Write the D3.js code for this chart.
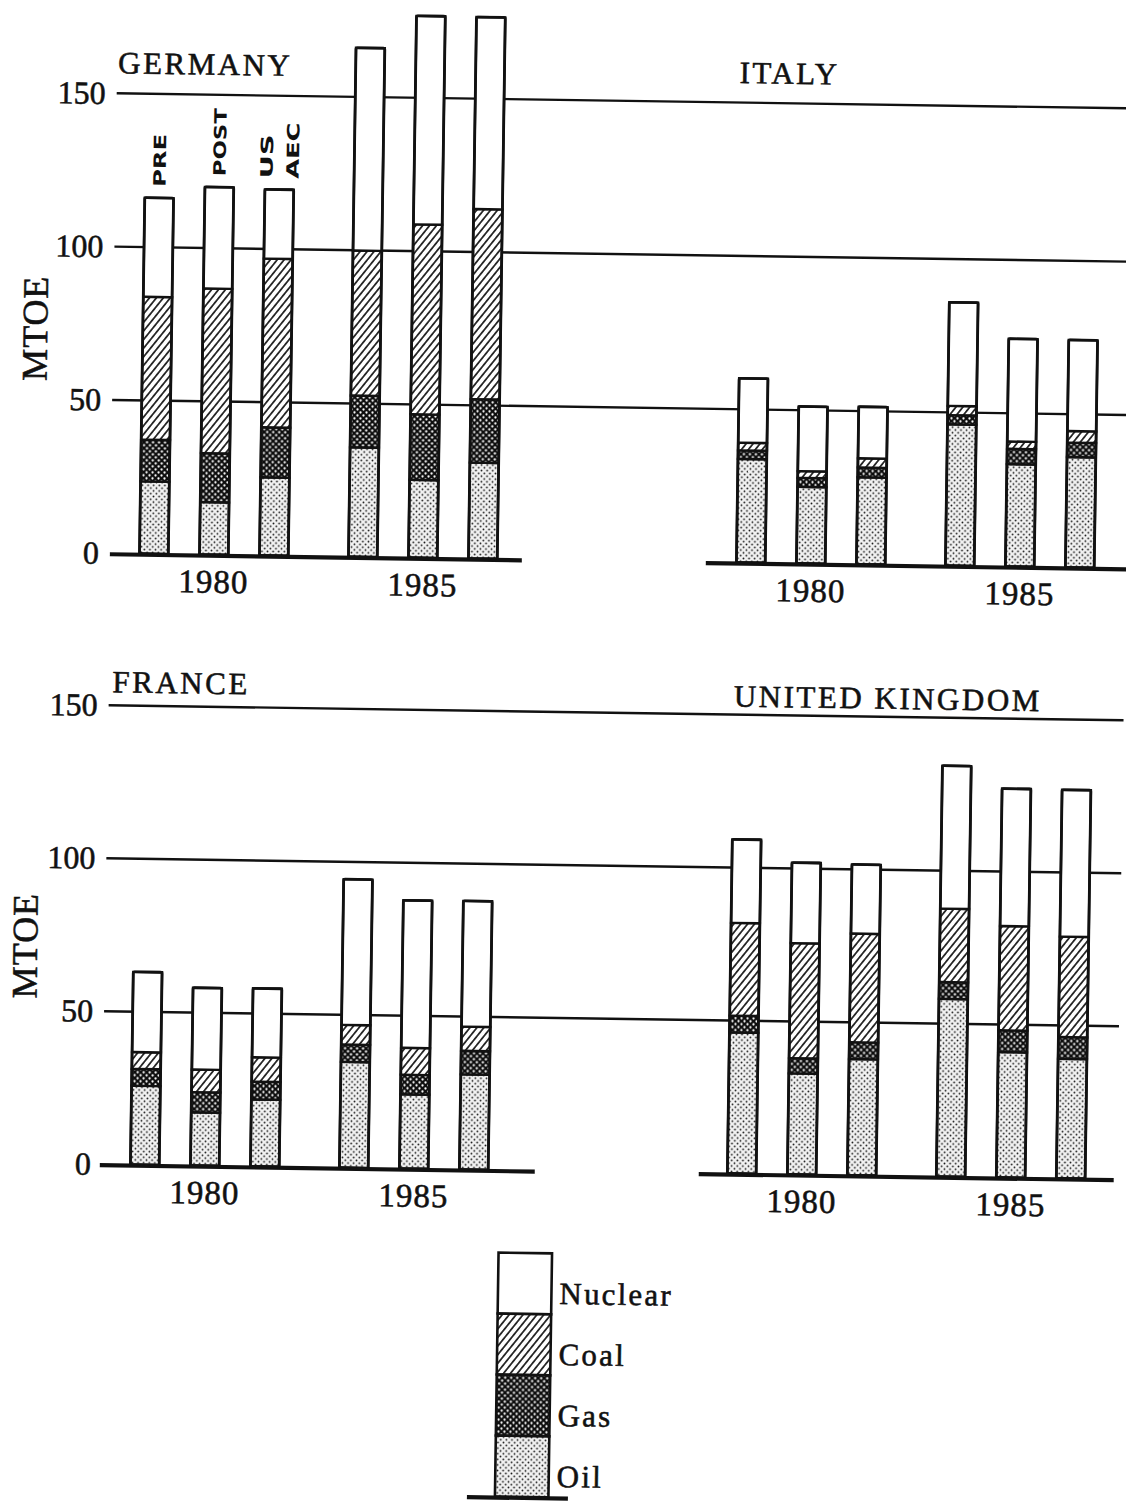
<!DOCTYPE html>
<html>
<head>
<meta charset="utf-8">
<script src="https://cdn.jsdelivr.net/npm/d3@7"></script>
<style>
  html, body { margin: 0; padding: 0; background: #fff; }
  svg { display: block; }
  .ink { stroke: #111; stroke-width: 0.55px; paint-order: stroke; }
</style>
</head>
<body>
<script>
// Primary energy supply by source (MTOE) under three scenarios, 1980 and 1985.

const years = ["1980", "1985"];
const scenarios = ["PRE", "POST", "US AEC"];
const sources = ["Oil", "Gas", "Coal", "Nuclear"];
const yTicks = [0, 50, 100, 150];

// Order of values: 1980 PRE, POST, US AEC, then 1985 PRE, POST, US AEC
const germanyOil     = [23.6, 17.1, 25.5, 35.7, 25.4, 31.3];
const germanyGas     = [13.6, 16.0, 16.3, 16.9, 21.4, 20.7];
const germanyCoal    = [46.6, 53.7, 55.0, 47.3, 61.9, 62.0];
const germanyNuclear = [32.3, 33.1, 22.6, 66.1, 68.0, 62.6];

const italyOil     = [33.8, 25.0, 28.4, 46.1, 33.4, 36.0];
const italyGas     = [2.8, 2.9, 3.2, 3.0, 5.0, 4.7];
const italyCoal    = [2.5, 2.2, 3.0, 3.0, 2.4, 3.8];
const italyNuclear = [21.0, 21.1, 16.8, 33.8, 33.5, 29.7];

const franceOil     = [25.8, 17.4, 21.9, 34.6, 24.3, 31.1];
const franceGas     = [5.5, 6.6, 5.8, 5.7, 6.4, 7.7];
const franceCoal    = [5.5, 7.4, 8.0, 6.4, 8.8, 7.9];
const franceNuclear = [26.2, 26.7, 22.5, 47.6, 48.2, 41.1];

const ukOil     = [46.1, 33.0, 38.0, 58.1, 41.0, 39.1];
const ukGas     = [5.5, 5.0, 5.5, 5.5, 7.1, 7.1];
const ukCoal    = [30.3, 37.6, 35.5, 24.0, 34.1, 32.8];
const ukNuclear = [27.3, 26.3, 22.6, 46.7, 44.9, 48.0];

const countries = ["GERMANY", "ITALY", "FRANCE", "UNITED KINGDOM"];
const countryValues = {
  "GERMANY":        { Oil: germanyOil, Gas: germanyGas, Coal: germanyCoal, Nuclear: germanyNuclear },
  "ITALY":          { Oil: italyOil,   Gas: italyGas,   Coal: italyCoal,   Nuclear: italyNuclear },
  "FRANCE":         { Oil: franceOil,  Gas: franceGas,  Coal: franceCoal,  Nuclear: franceNuclear },
  "UNITED KINGDOM": { Oil: ukOil,      Gas: ukGas,      Coal: ukCoal,      Nuclear: ukNuclear }
};

// ---------- layout ----------
const W = 1126, H = 1502;
const rows = [
  { base: 560,  top: 100, gridX: [107, 1145], titleY: [80, 80.5] },
  { base: 1171, top: 712, gridX: [108, 1123], titleY: [699, 704] }
];
const cols = [ { range: [121, 510] }, { range: [718, 1107] } ];
const panelLayout = {
  "GERMANY":        { row: 0, col: 0, titleX: 108,   axisX: [107, 519] },
  "ITALY":          { row: 0, col: 1, titleX: 729.5, axisX: [703, 1145] },
  "FRANCE":         { row: 1, col: 0, titleX: 111.5, axisX: [106, 541] },
  "UNITED KINGDOM": { row: 1, col: 1, titleX: 733,   axisX: [705, 1120] }
};
const serif = "'Liberation Serif', 'Times New Roman', serif";
const labelLength = { "PRE": 53, "POST": 68, "US": 44, "AEC": 56 };

const svg = d3.select("body").append("svg")
  .attr("width", W).attr("height", H)
  .attr("viewBox", `0 0 ${W} ${H}`);

// ---------- fill patterns ----------
const defs = svg.append("defs");

const oilPat = defs.append("pattern").attr("id", "pat-oil")
  .attr("patternUnits", "userSpaceOnUse").attr("width", 5.6).attr("height", 5.6);
oilPat.append("rect").attr("width", 5.6).attr("height", 5.6).attr("fill", "#f2f2f2");
oilPat.append("circle").attr("cx", 1.4).attr("cy", 1.4).attr("r", 0.9).attr("fill", "#151515");
oilPat.append("circle").attr("cx", 4.2).attr("cy", 4.2).attr("r", 0.9).attr("fill", "#151515");

const gasPat = defs.append("pattern").attr("id", "pat-gas")
  .attr("patternUnits", "userSpaceOnUse").attr("width", 6).attr("height", 6);
gasPat.append("rect").attr("width", 6).attr("height", 6).attr("fill", "#0d0d0d");
gasPat.append("circle").attr("cx", 1.5).attr("cy", 1.5).attr("r", 1.15).attr("fill", "#fff");
gasPat.append("circle").attr("cx", 4.5).attr("cy", 4.5).attr("r", 1.15).attr("fill", "#fff");

const coalPat = defs.append("pattern").attr("id", "pat-coal")
  .attr("patternUnits", "userSpaceOnUse").attr("width", 5.4).attr("height", 5.4)
  .attr("patternTransform", "rotate(38)");
coalPat.append("rect").attr("width", 5.4).attr("height", 5.4).attr("fill", "#fff");
coalPat.append("line").attr("x1", 2.7).attr("x2", 2.7).attr("y1", -1).attr("y2", 6.4)
  .attr("stroke", "#0d0d0d").attr("stroke-width", 1.6);

const fills = { Oil: "url(#pat-oil)", Gas: "url(#pat-gas)", Coal: "url(#pat-coal)", Nuclear: "#fff" };

// whole sheet sits slightly rotated on the page
const sheet = svg.append("g").attr("transform", "rotate(0.85, 563, 751)");

// ---------- shared y scales, gridlines and axes per row ----------
rows.forEach((r, i) => {
  r.y = d3.scaleLinear().domain([0, 150]).range([r.base, r.top]);

  sheet.append("g").selectAll("line")
    .data(yTicks.filter(t => t > 0))
    .join("line")
      .attr("x1", r.gridX[0]).attr("x2", r.gridX[1])
      .attr("y1", d => r.y(d)).attr("y2", d => r.y(d))
      .attr("stroke", "#111").attr("stroke-width", 2.4);

  const axis = sheet.append("g")
    .attr("transform", `translate(${r.gridX[0]},0)`)
    .call(d3.axisLeft(r.y).tickValues(yTicks).tickSize(0).tickPadding(11));
  axis.select(".domain").remove();
  axis.selectAll("text")
    .attr("class", "ink")
    .attr("font-family", serif).attr("font-size", 32).attr("fill", "#111");

  const midY = r.y(75);
  sheet.append("text")
    .attr("class", "ink")
    .attr("transform", `translate(${i === 0 ? 28.5 : 27.5},${midY + (i === 0 ? 6 : 12)}) rotate(-90)`)
    .attr("text-anchor", "middle").attr("dy", "0.35em")
    .attr("font-family", serif).attr("font-size", 36).attr("letter-spacing", 1)
    .attr("fill", "#111")
    .text("MTOE");
});

// ---------- panels ----------
countries.forEach(name => {
  const lay = panelLayout[name];
  const r = rows[lay.row];
  const y = r.y;
  const x0 = d3.scaleBand().domain(years).range(cols[lay.col].range).paddingInner(29 / 209);
  const x1 = d3.scaleBand().domain(scenarios).range([0, x0.bandwidth()])
    .paddingInner(0.52).paddingOuter(0.26);

  const vals = countryValues[name];
  const table = [];
  years.forEach((yr, yi) => scenarios.forEach((sc, si) => {
    const idx = yi * scenarios.length + si;
    const row = { year: yr, scenario: sc };
    sources.forEach(s => { row[s] = vals[s][idx]; });
    table.push(row);
  }));
  const stacked = d3.stack().keys(sources)(table);

  const g = sheet.append("g").attr("class", "panel");
  const bx = d => x0(d.data.year) + x1(d.data.scenario);

  g.selectAll("g.series")
    .data(stacked)
    .join("g").attr("class", "series")
      .attr("fill", d => fills[d.key])
    .selectAll("rect")
    .data(d => d)
    .join("rect")
      .attr("x", bx)
      .attr("y", d => y(d[1]))
      .attr("width", x1.bandwidth())
      .attr("height", d => y(d[0]) - y(d[1]))
      .attr("stroke", "#111").attr("stroke-width", 2.4);

  // outline of each whole bar
  g.selectAll("rect.outline")
    .data(stacked[stacked.length - 1])
    .join("rect").attr("class", "outline")
      .attr("x", bx)
      .attr("y", d => y(d[1]))
      .attr("width", x1.bandwidth())
      .attr("height", d => y(0) - y(d[1]))
      .attr("rx", 1.5)
      .attr("fill", "none").attr("stroke", "#111").attr("stroke-width", 2.8);

  // zero line
  g.append("line")
    .attr("x1", lay.axisX[0]).attr("x2", lay.axisX[1])
    .attr("y1", y(0) + 1).attr("y2", y(0) + 1)
    .attr("stroke", "#111").attr("stroke-width", 4.2);

  // year labels
  g.selectAll("text.year")
    .data(years)
    .join("text").attr("class", "year ink")
      .attr("x", d => x0(d) + x0.bandwidth() / 2)
      .attr("y", y(0) + 38)
      .attr("text-anchor", "middle")
      .attr("font-family", serif).attr("font-size", 33).attr("letter-spacing", 1).attr("fill", "#111")
      .text(d => d);

  // country title
  g.append("text")
    .attr("class", "ink")
    .attr("x", lay.titleX).attr("y", r.titleY[lay.col])
    .attr("font-family", serif).attr("font-size", 31).attr("letter-spacing", 2.5)
    .attr("fill", "#111")
    .text(name);

  // scenario labels above the first 1980 group
  if (name === "GERMANY") {
    const topOf = sc => y(stacked[stacked.length - 1].find(d => d.data.year === "1980" && d.data.scenario === sc)[1]);
    scenarios.forEach(sc => {
      const parts = sc.split(" ");
      const cx = x0("1980") + x1(sc) + x1.bandwidth() / 2;
      const by = topOf(sc) - 11;
      parts.forEach((p, pi) => {
        const off = parts.length === 1 ? 0 : (pi === 0 ? -13 : 13);
        g.append("text")
          .attr("transform", `translate(${cx + off},${by}) rotate(-90)`)
          .attr("dy", "0.36em")
          .attr("font-family", "'DejaVu Sans', 'Liberation Sans', sans-serif")
          .attr("font-weight", "bold").attr("font-size", 17)
          .attr("textLength", labelLength[p]).attr("lengthAdjust", "spacingAndGlyphs")
          .attr("fill", "#111")
          .text(p);
      });
    });
  }
});

// ---------- legend ----------
const legendOrder = sources.slice().reverse();
const ly = d3.scaleBand().domain(legendOrder).range([1253.5, 1497.5]);
const legend = sheet.append("g");
legend.selectAll("rect")
  .data(legendOrder)
  .join("rect")
    .attr("x", 506).attr("y", d => ly(d))
    .attr("width", 53.5).attr("height", ly.bandwidth())
    .attr("fill", d => fills[d])
    .attr("stroke", "#111").attr("stroke-width", 2.6);
legend.append("line")
  .attr("x1", 478).attr("x2", 579)
  .attr("y1", 1498.5).attr("y2", 1498.5)
  .attr("stroke", "#111").attr("stroke-width", 4.2);
legend.selectAll("text")
  .data(legendOrder)
  .join("text")
    .attr("class", "ink")
    .attr("x", 567.5)
    .attr("y", d => ly(d) + ly.bandwidth() / 2 + 20)
    .attr("font-family", serif).attr("font-size", 31).attr("letter-spacing", 2.2)
    .attr("fill", "#111")
    .text(d => d);
</script>
</body>
</html>
